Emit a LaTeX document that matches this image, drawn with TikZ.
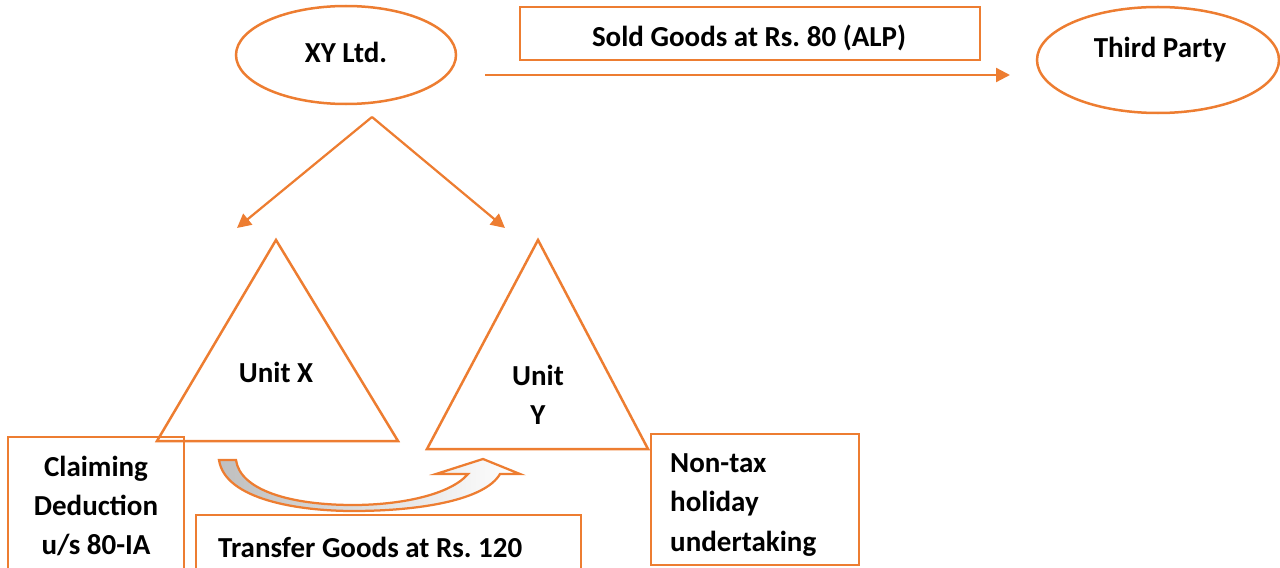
\documentclass[tikz,border=0pt]{standalone}
\usepackage{fontspec}
\setmainfont{Carlito}
\usetikzlibrary{positioning}
\usetikzlibrary{shapes.geometric}
\usetikzlibrary{arrows.meta}
\usepackage{xcolor}

\definecolor{accent}{HTML}{ED7D31}

\tikzset{
party/.style={ellipse, draw=accent, line width=0.5mm},
tagbox/.style={rectangle, draw=accent, line width=0.5mm},
flow/.style={accent, line width=0.45mm, -{Triangle[length=2.8mm, width=2.8mm]}},
unitline/.style={accent, line width=0.5mm, line join=miter}
}

\frenchspacing

\begin{document}
\begin{tikzpicture}[x=0.2mm, y=-0.2mm, font=\bfseries\fontsize{16.5}{22.4}\selectfont]

\clip (0,0) rectangle (1280,568);

% ellipses
{
\node[party, minimum width=44mm, minimum height=19.6mm] (xy) at (346,55) {};
\node[party, minimum width=48.4mm, minimum height=21.2mm] (third) at (1158,60) {};

\node (xytext) at (346,52) {XY Ltd.};
\node (thirdtext) at (1160,50) {Third Party};
}

% units
{
\draw[unitline] (276,240) -- (398,441) -- (157,441) -- cycle;
\draw[unitline] (538,240) -- (648,449) -- (427,449) -- cycle;

\node (unitx) at (276,372) {Unit X};
\node[align=center] (unity) at (538,395) {Unit\\Y};
}

% boxes
{
\node[tagbox, minimum width=92mm, minimum height=10.6mm] (sold) at (750,33.5) {};
\node (soldtext) at (749,38) {Sold Goods at Rs. 80 (ALP)};

\node[tagbox, align=center, minimum width=35.2mm, minimum height=27.6mm] (claim) at (96,506)
{Claiming\\Deduction\\u/s 80-IA};

\node[tagbox, minimum width=77mm, minimum height=12.8mm] (transfer) at (388.5,547) {};
\node[anchor=west] (transfertext) at (212,547) {Transfer Goods at Rs. 120};

\node[tagbox, minimum width=41.6mm, minimum height=26.2mm] (nontax) at (755,499.5) {};
\node[anchor=west, align=left] (nontaxtext) at (664,505) {Non-tax\\holiday\\undertaking};
}

% arrows
{
\coordinate (split) at (372,117);
\coordinate (xhead) at (237,228);
\coordinate (yhead) at (505,228);
\coordinate (sellfrom) at (485,75);
\coordinate (sellto) at (1010,75);

\draw[flow] (split) -- (xhead);
\draw[flow] (split) -- (yhead);
\draw[flow] (sellfrom) -- (sellto);

% curved transfer arrow
\shade[left color=gray!50, right color=white, draw=accent, line width=0.45mm, line join=miter]
(219,460) .. controls (225,500) and (300,511) .. (353,511)
.. controls (420,511) and (485,500) .. (500,474) -- (520,474) -- (483,459) -- (436,474) -- (468,474)
.. controls (450,495) and (400,505) .. (353,505)
.. controls (290,505) and (240,490) .. (236,460) -- cycle;
}

\end{tikzpicture}
\end{document}
